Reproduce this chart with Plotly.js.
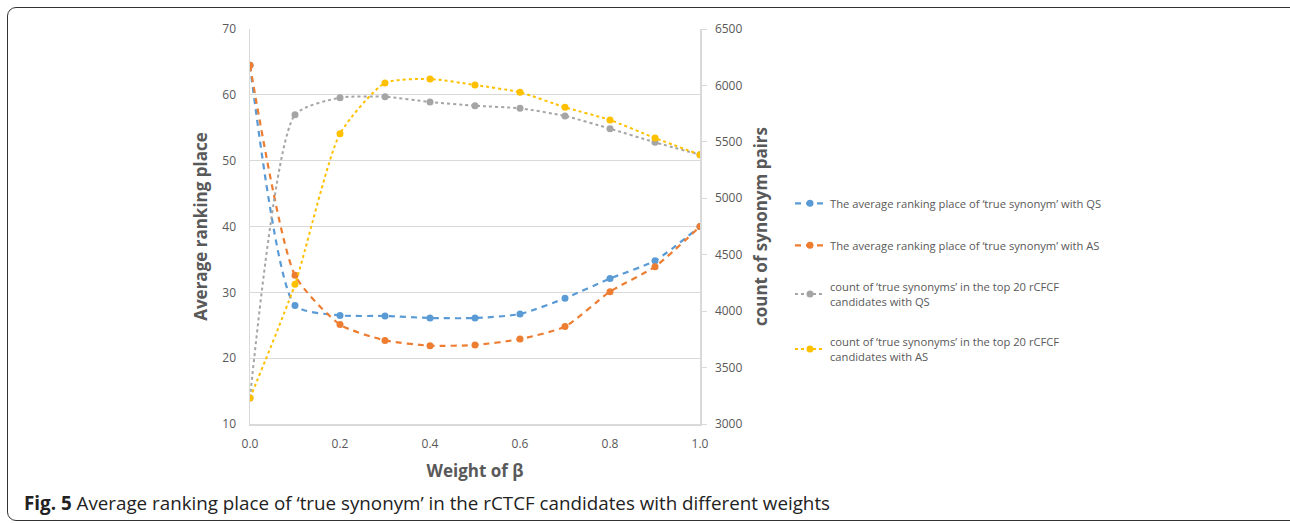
<!DOCTYPE html>
<html>
<head>
<meta charset="utf-8">
<script src="https://cdn.plot.ly/plotly-3.0.1.min.js"></script>
<style>
  html, body { margin: 0; padding: 0; background: #fff; }
  #wrap { position: relative; width: 1290px; height: 523px; overflow: hidden; }
  #chart { position: absolute; left: 0; top: 0; width: 1290px; height: 523px; }
  #frame { position: absolute; left: 7px; top: 7px; width: 1290px; height: 512px;
           border: 1.5px solid #333; border-radius: 9px; pointer-events: none; }
</style>
</head>
<body>
<div id="wrap">
  <div id="chart"></div>
  <div id="frame"></div>
</div>
<script>
const weights = [0.0, 0.1, 0.2, 0.3, 0.4, 0.5, 0.6, 0.7, 0.8, 0.9, 1.0];
const rankQS = [64.5, 28.0, 26.5, 26.4, 26.1, 26.1, 26.7, 29.1, 32.1, 34.8, 40.0];
const rankAS = [64.5, 32.6, 25.1, 22.7, 21.9, 22.0, 22.9, 24.8, 30.1, 33.9, 40.0];
const countQS = [3230, 5740, 5891, 5900, 5853, 5820, 5797, 5729, 5617, 5496, 5386];
const countAS = [3230, 4238, 5572, 6022, 6057, 6004, 5939, 5806, 5694, 5534, 5386];
const seriesNames = [
  "The average ranking place of \u2018true synonym\u2019 with QS",
  "The average ranking place of \u2018true synonym\u2019 with AS",
  "count of \u2018true synonyms\u2019 in the top 20 rCFCF<br>candidates with QS",
  "count of \u2018true synonyms\u2019 in the top 20 rCFCF<br>candidates with AS"
];
const xTicks = [0.0, 0.2, 0.4, 0.6, 0.8, 1.0];
const captionBold = "Fig. 5";
const captionText = "Average ranking place of \u2018true synonym\u2019 in the rCTCF candidates with different weights";

const gray = "#595959";
const grid = "#d9d9d9";
const sm = 0.6;

const traces = [
  { x: weights, y: rankQS, name: seriesNames[0], yaxis: "y", legendgroup: "a",
    mode: "lines+markers", line: { color: "#5B9BD5", width: 2.2, dash: "6px,5px", shape: "spline", smoothing: sm },
    marker: { color: "#5B9BD5", size: 7 } },
  { x: weights, y: rankAS, name: seriesNames[1], yaxis: "y", legendgroup: "b",
    mode: "lines+markers", line: { color: "#ED7D31", width: 2.2, dash: "6px,5px", shape: "spline", smoothing: sm },
    marker: { color: "#ED7D31", size: 7 } },
  { x: weights, y: countQS, name: seriesNames[2], yaxis: "y2", legendgroup: "c",
    mode: "lines+markers", line: { color: "#A5A5A5", width: 2, dash: "dot", shape: "spline", smoothing: sm },
    marker: { color: "#A5A5A5", size: 7 } },
  { x: weights, y: countAS, name: seriesNames[3], yaxis: "y2", legendgroup: "d",
    mode: "lines+markers", line: { color: "#FFC000", width: 2, dash: "dot", shape: "spline", smoothing: sm },
    marker: { color: "#FFC000", size: 7 } }
];

const layout = {
  width: 1290, height: 523,
  margin: { l: 250, r: 590, t: 29, b: 99 },
  paper_bgcolor: "rgba(0,0,0,0)", plot_bgcolor: "#fff",
  font: { family: "Open Sans, sans-serif", color: gray },
  showlegend: true,
  legend: {
    x: 1.2, y: 0.365, xanchor: "left", yanchor: "middle",
    font: { size: 11.2, color: gray, family: "Open Sans, sans-serif" },
    traceorder: "grouped", tracegroupgap: 23, itemwidth: 30
  },
  xaxis: {
    range: [0, 1], tickvals: xTicks, tickformat: ".1f",
    showgrid: false, zeroline: false, showline: true, linecolor: grid, linewidth: 1.5,
    ticks: "", ticklabelstandoff: 8, tickfont: { size: 12, color: gray },
    title: { text: "Weight of \u03b2", font: { size: 17, color: gray, family: "Open Sans, sans-serif", weight: "bold" }, standoff: 14 }
  },
  yaxis: {
    range: [10, 70], dtick: 10, showgrid: true, gridcolor: grid, gridwidth: 1,
    zeroline: false, showline: true, linecolor: grid, linewidth: 1.5, ticks: "",
    ticklabelstandoff: 10, tickfont: { size: 12, color: gray },
    title: { text: "Average ranking place", font: { size: 17, color: gray, family: "Open Sans, sans-serif", weight: "bold" }, standoff: 10 }
  },
  yaxis2: {
    range: [3000, 6500], dtick: 500, overlaying: "y", side: "right",
    showgrid: false, zeroline: false, showline: true, linecolor: grid, linewidth: 1.5,
    ticks: "outside", ticklen: 5, tickcolor: grid, ticklabelstandoff: 6, tickfont: { size: 12, color: gray },
    title: { text: "count of synonym pairs", font: { size: 17, color: gray, family: "Open Sans, sans-serif", weight: "bold" }, standoff: 13 }
  },
  annotations: [
    { xref: "paper", yref: "paper", x: -0.507, y: -0.2, xanchor: "left", yanchor: "middle",
      showarrow: false, align: "left",
      text: "<b>" + captionBold + "</b> " + captionText,
      font: { size: 18.8, color: "#222", family: "Open Sans, sans-serif" } }
  ]
};

Plotly.newPlot("chart", traces, layout, { displayModeBar: false, staticPlot: true });
</script>
</body>
</html>
